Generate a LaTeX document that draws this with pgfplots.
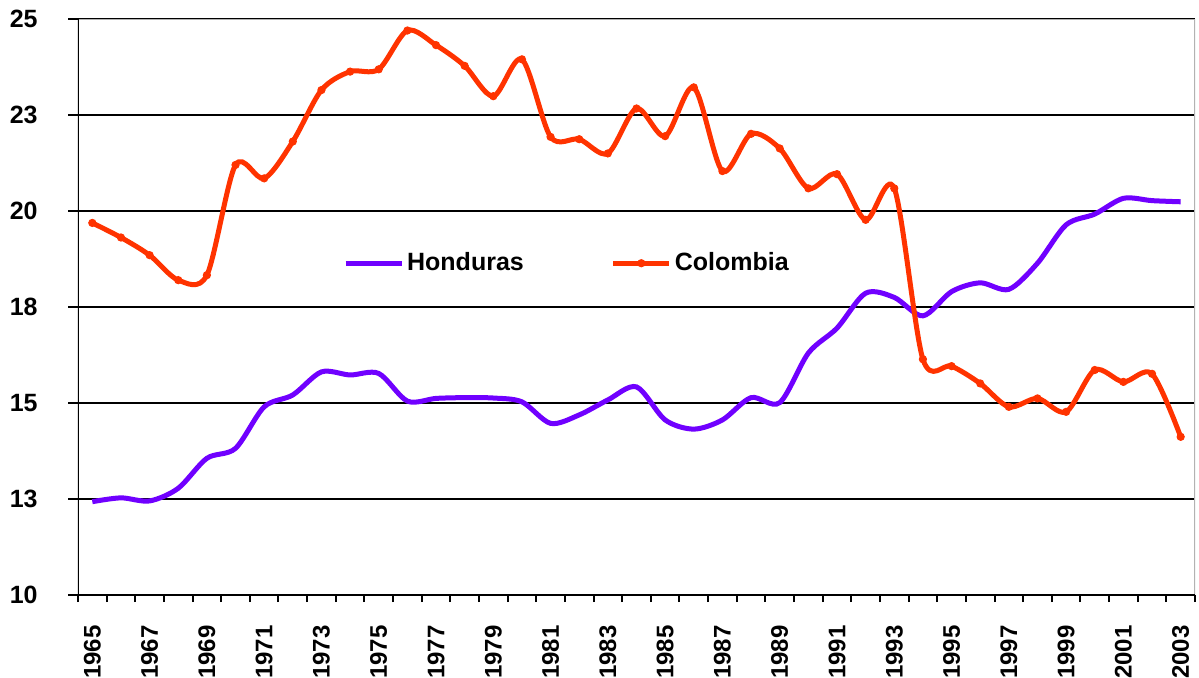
\documentclass[border=0pt]{standalone}
\usepackage{pgfplots}
\pgfplotsset{compat=1.18}
\usepackage{fontspec}
\setmainfont{Liberation Sans}
\definecolor{hond}{RGB}{112,0,255}
\definecolor{colo}{RGB}{255,51,0}
\begin{document}
\begin{tikzpicture}
\useasboundingbox (-39pt,-41pt) rectangle (560.5pt,297.5pt);
\begin{axis}[
  at={(0,0)}, anchor=south west,
  scale only axis, width=558.5pt, height=288pt,
  xmin=1964.5, xmax=2003.5, ymin=10, ymax=25,
  axis line style={draw=none},
  tick align=outside,
  xtick={1965,1967,...,2003},
  xticklabels={1965,1967,1969,1971,1973,1975,1977,1979,1981,1983,1985,1987,1989,1991,1993,1995,1997,1999,2001,2003},
  major x tick style={draw=none},
  minor xtick={1964.5,1965.5,...,2003.5},
  minor x tick style={black, line width=1pt},
  minor tick length=3.5pt,
  xtick pos=bottom, ytick pos=left,
  ytick={10,12.5,...,25},
  yticklabels={10,13,15,18,20,23,25},
  major y tick style={black, line width=1pt},
  major tick length=5pt,
  ymajorgrids=true,
  major grid style={black, line width=0.9pt},
  /pgf/number format/assume math mode=true,
  xticklabel style={rotate=90, anchor=east, inner sep=0pt, font=\bfseries\fontsize{12}{14}\selectfont},
  xticklabel shift=10pt,
  yticklabel style={anchor=east, inner sep=0pt, font=\bfseries\fontsize{12.5}{14}\selectfont},
  yticklabel shift=15pt,
  legend columns=2,
  legend style={at={(0.237,0.576)}, anchor=west, draw=none, fill=none,
    inner sep=0pt, font=\bfseries\fontsize{12.5}{15}\selectfont,
    nodes={inner sep=1.5pt},
    /tikz/every even column/.append style={column sep=42pt}},
  legend image code/.code={\draw[mark repeat=2,mark phase=2] plot coordinates {(0pt,0pt) (14pt,0pt) (28pt,0pt)};},
]
\draw[gray!60, line width=1pt] (rel axis cs:0,1) -- (rel axis cs:1,1) -- (rel axis cs:1,0);
\draw[black, line width=1pt] (rel axis cs:0,1) -- (rel axis cs:0,0) -- (rel axis cs:1,0);
\addplot[hond, line width=2.5pt, smooth, tension=0.5] coordinates {
(1965,12.43) (1966,12.53) (1967,12.45) (1968,12.78) (1969,13.56) (1970,13.82)
(1971,14.90) (1972,15.21) (1973,15.81) (1974,15.73) (1975,15.77) (1976,15.05)
(1977,15.12) (1978,15.14) (1979,15.13) (1980,15.03) (1981,14.47) (1982,14.69)
(1983,15.08) (1984,15.42) (1985,14.56) (1986,14.32) (1987,14.56) (1988,15.14)
(1989,15.01) (1990,16.30) (1991,16.95) (1992,17.86) (1993,17.75) (1994,17.27)
(1995,17.90) (1996,18.13) (1997,17.96) (1998,18.64) (1999,19.64) (2000,19.92)
(2001,20.33) (2002,20.27) (2003,20.24)};
\addlegendentry{Honduras}
\addplot[colo, line width=2.5pt, smooth, tension=0.5, mark=*, mark size=1.8pt, mark options={solid, fill=colo, line width=0.5pt}] coordinates {
(1965,19.69) (1966,19.31) (1967,18.85) (1968,18.20) (1969,18.33) (1970,21.20)
(1971,20.85) (1972,21.81) (1973,23.15) (1974,23.63) (1975,23.69) (1976,24.70)
(1977,24.32) (1978,23.78) (1979,22.99) (1980,23.95) (1981,21.93) (1982,21.87)
(1983,21.50) (1984,22.67) (1985,21.95) (1986,23.22) (1987,21.04) (1988,22.01)
(1989,21.63) (1990,20.59) (1991,20.96) (1992,19.77) (1993,20.59) (1994,16.14)
(1995,15.96) (1996,15.51) (1997,14.90) (1998,15.12) (1999,14.77) (2000,15.86)
(2001,15.55) (2002,15.76) (2003,14.12)};
\addlegendentry{Colombia}
\end{axis}
\end{tikzpicture}
\end{document}
